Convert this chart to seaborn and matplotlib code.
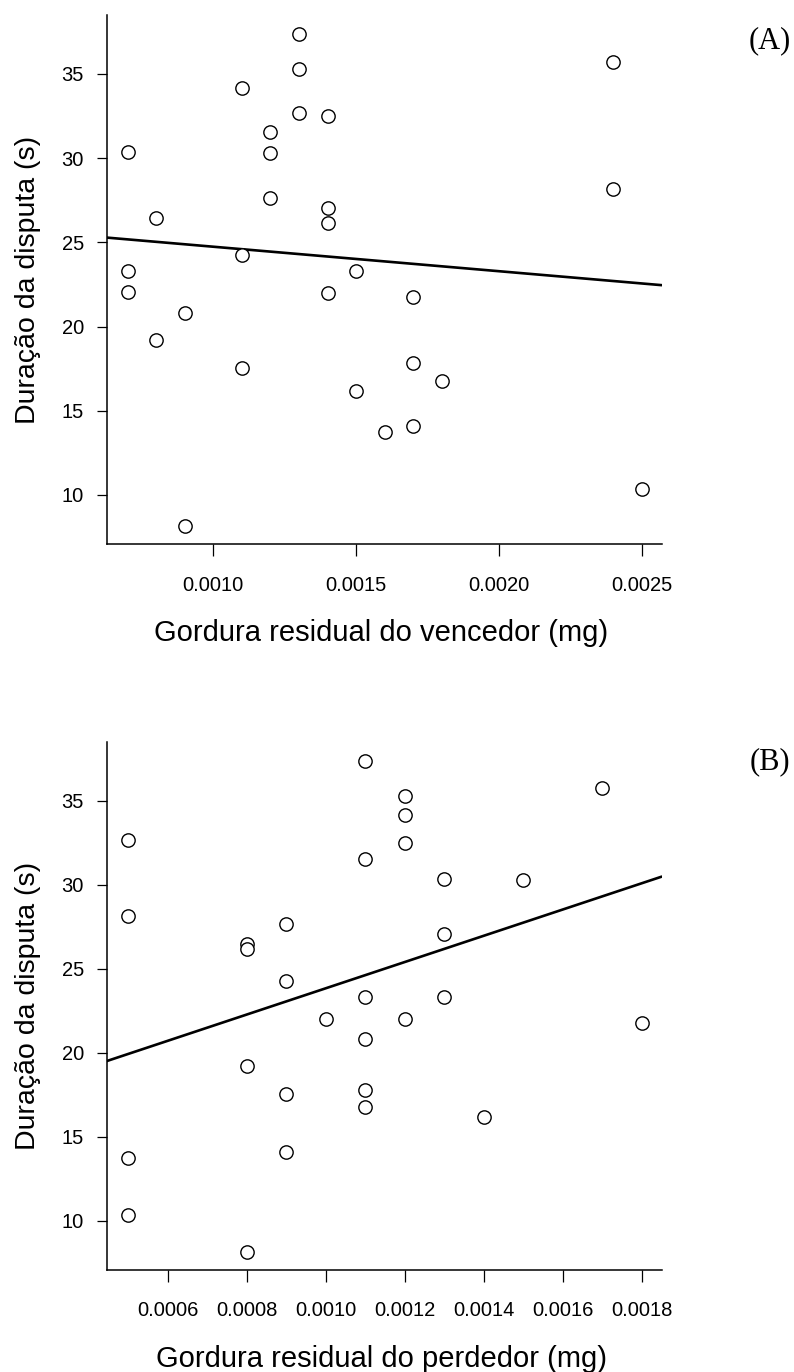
import matplotlib
matplotlib.use("Agg")
import matplotlib.pyplot as plt
import seaborn as sns
import numpy as np
import pandas as pd
from matplotlib.ticker import FormatStrFormatter, FixedLocator

# ---- data ----
winner_fat = [0.0013, 0.0024, 0.0013, 0.0011, 0.0013, 0.0014, 0.0012, 0.0007, 0.0012, 0.0024,
              0.0012, 0.0014, 0.0008, 0.0014, 0.0011, 0.0007, 0.0015, 0.0007, 0.0014, 0.0017,
              0.0009, 0.0008, 0.0017, 0.0011, 0.0018, 0.0015, 0.0017, 0.0016, 0.0025, 0.0009]
duration_A = [37.35, 35.71, 35.27, 34.18, 32.66, 32.50, 31.53, 30.36, 30.28, 28.15,
              27.65, 27.05, 26.46, 26.16, 24.25, 23.31, 23.31, 22.05, 21.97, 21.77,
              20.80, 19.18, 17.81, 17.55, 16.76, 16.19, 14.11, 13.75, 10.37, 8.17]

loser_fat = [0.0011, 0.0005, 0.0011, 0.0005, 0.0009, 0.0008, 0.0008, 0.0009, 0.0011, 0.0010,
             0.0011, 0.0008, 0.0009, 0.0011, 0.0011, 0.0009, 0.0005, 0.0005, 0.0008,
             0.0017, 0.0012, 0.0012, 0.0012, 0.0013, 0.0015, 0.0013, 0.0013, 0.0012, 0.0018,
             0.0014]
duration_B = [37.34, 32.64, 31.54, 28.13, 27.65, 26.49, 26.17, 24.25, 23.31, 21.99,
              20.84, 19.18, 17.55, 17.77, 16.76, 14.10, 13.75, 10.36, 8.16,
              35.73, 35.26, 34.15, 32.49, 30.32, 30.26, 27.04, 23.29, 22.03, 21.77,
              16.17]

xticks_A = [0.0010, 0.0015, 0.0020, 0.0025]
xticks_B = [0.0006, 0.0008, 0.0010, 0.0012, 0.0014, 0.0016, 0.0018]
yticks = [10, 15, 20, 25, 30, 35]

xlabel_A = "Gordura residual do vencedor (mg)"
xlabel_B = "Gordura residual do perdedor (mg)"
ylabel = "Duração da disputa (s)"
panel_A = "(A)"
panel_B = "(B)"

df_A = pd.DataFrame({"x": winner_fat, "y": duration_A})
df_B = pd.DataFrame({"x": loser_fat, "y": duration_B})

# ---- style ----
sns.set_style("ticks")
plt.rcParams['font.family'] = ['Liberation Sans', 'DejaVu Sans']
plt.rcParams.update({
    "text.color": "black",
    "axes.labelcolor": "black",
    "xtick.color": "black",
    "ytick.color": "black",
    "axes.edgecolor": "black",
})

W, H = 794, 1372
fig = plt.figure(figsize=(W / 100, H / 100), dpi=100)

def make_axes(left_px, top_px, right_px, bottom_px):
    return fig.add_axes([left_px / W, 1 - bottom_px / H,
                         (right_px - left_px) / W, (bottom_px - top_px) / H])

axA = make_axes(106.7, 15, 661.7, 544.3)
axB = make_axes(106.7, 741.7, 661.7, 1270)

def draw(ax, df, xlim, xticks, xlabel):
    ax.set_xlim(*xlim)
    ax.set_ylim(7.07, 38.5)
    sns.regplot(data=df, x="x", y="y", ax=ax, ci=None, truncate=False,
                scatter_kws=dict(s=92, facecolors="white", edgecolors="black",
                                 linewidths=1.0, alpha=1, zorder=3),
                line_kws=dict(color="black", linewidth=1.9, zorder=2))
    ax.set_xlim(*xlim)
    ax.set_ylim(7.07, 38.5)
    ax.xaxis.set_major_locator(FixedLocator(xticks))
    ax.yaxis.set_major_locator(FixedLocator(yticks))
    ax.xaxis.set_major_formatter(FormatStrFormatter('%.4f'))
    ax.yaxis.set_major_formatter(FormatStrFormatter('%d'))
    for s in ["top", "right"]:
        ax.spines[s].set_visible(False)
    for s in ["left", "bottom"]:
        ax.spines[s].set_linewidth(1.1)
        ax.spines[s].set_color("black")
    ax.tick_params(axis="both", direction="out", colors="black", labelcolor="black",
                   labelsize=14.5, width=0.9)
    ax.tick_params(axis="x", length=8.5, pad=14)
    ax.tick_params(axis="y", length=7.5, pad=9)
    ax.set_xlabel(xlabel, fontsize=21, color="black")
    ax.set_ylabel(ylabel, fontsize=20.5, color="black")
    ax.xaxis.set_label_coords(0.495, -0.1676)
    ax.xaxis.label.set_va("center")
    ax.yaxis.set_label_coords(-0.1418, 0.5)
    ax.yaxis.label.set_va("center")

draw(axA, df_A, (0.000627, 0.00257), xticks_A, xlabel_A)
draw(axB, df_B, (0.000446, 0.001851), xticks_B, xlabel_B)

fig.text(770 / W, 1 - 41 / H, panel_A, fontsize=22, color="black",
         family=['Liberation Serif', 'DejaVu Serif'], ha="center", va="center")
fig.text(770 / W, 1 - 762 / H, panel_B, fontsize=22, color="black",
         family=['Liberation Serif', 'DejaVu Serif'], ha="center", va="center")

fig.savefig("out.png", dpi=100, facecolor="white")
